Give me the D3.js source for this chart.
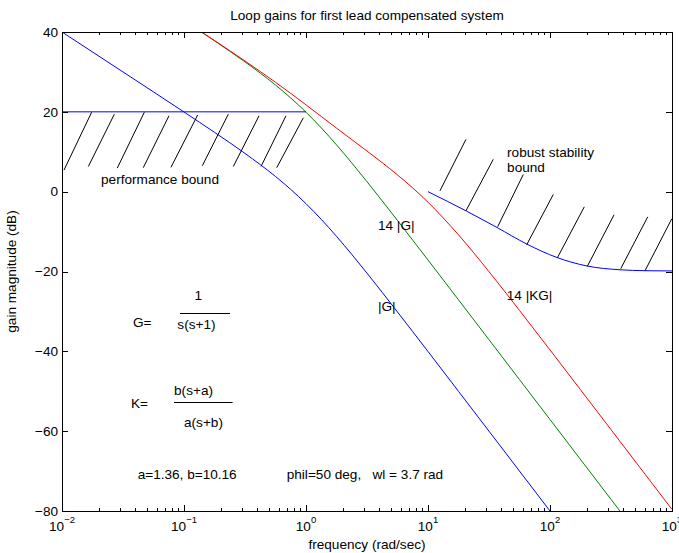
<!DOCTYPE html>
<html>
<head>
<meta charset="utf-8">
<script src="https://cdn.jsdelivr.net/npm/d3@7"></script>
<style>
  html, body { margin: 0; padding: 0; background: #fff; }
  svg text { font-family: "Liberation Sans", Arial, Helvetica, sans-serif; fill: #000; }
</style>
</head>
<body>
<svg id="chart" width="679" height="553"></svg>
<script>
// ---------------- data ----------------
const titleText = "Loop gains for first lead compensated system";
const xLabel = "frequency (rad/sec)";
const yLabel = "gain magnitude (dB)";
const xDomain = [0.01, 1000];
const yDomain = [-80, 40];
const xTickExponents = [-2, -1, 0, 1, 2, 3];
const yTickValues = [-80, -60, -40, -20, 0, 20, 40];

// frequencies (rad/sec) shared by the three loop-gain curves
const freq = [0.01, 0.0316, 0.1, 0.178, 0.316, 0.562, 0.75, 1, 1.334, 1.778, 2.371, 3.162,
              4.217, 5.623, 7.499, 10, 17.78, 31.62, 56.23, 100, 316.2, 1000];
// |G|  (dB)
const gDb = [40.00, 30.00, 19.96, 14.86, 9.59, 3.81, 0.56, -3.01, -6.94, -11.19, -15.71, -20.41,
             -25.24, -30.14, -35.08, -40.04, -50.01, -60.00, -70.00, -80.00, -100.00, -120.00];
// 14|G| (dB)
const g14Db = [62.92, 52.92, 42.88, 37.78, 32.51, 26.73, 23.48, 19.91, 15.98, 11.73, 7.21, 2.51,
               -2.32, -7.22, -12.16, -17.12, -27.09, -37.08, -47.08, -57.08, -77.08, -97.08];
// 14|KG| (dB)
const kg14Db = [62.92, 52.92, 42.91, 37.86, 32.74, 27.41, 24.61, 21.75, 18.83, 15.93, 13.05, 10.18,
                7.25, 4.20, 0.92, -2.65, -10.82, -20.03, -29.75, -39.65, -59.61, -79.61];

// performance bound (horizontal) and its hatching
const perfFreq = [0.01, 1];
const perfDb = [20, 20];
const perfHatchFreqLow = [0.01038, 0.01644, 0.02838, 0.04634, 0.07816, 0.1413, 0.2535, 0.4276, 0.5754];
const perfHatchDbLow = [5.4, 6.3, 5.9, 6.0, 6.1, 6.5, 6.3, 6.3, 6.0];
const perfHatchFreqHigh = [0.0175, 0.02685, 0.0473, 0.0753, 0.1294, 0.2307, 0.4121, 0.6855, 0.9506];
const perfHatchDbHigh = [19.9, 19.4, 19.9, 19.0, 19.2, 19.4, 19.0, 19.0, 18.5];

// robust stability bound and its hatching
const robFreq = [10, 20.6, 36.8, 64.4, 114.0, 201.0, 375.0, 601.0, 1000];
const robDb = [0, -4.84, -8.98, -13.11, -16.49, -18.62, -19.57, -19.80, -19.87];
const robHatchFreqLow = [12.53, 20.46, 37.24, 64.42, 114.8, 202.3, 380.2, 601.2];
const robHatchDbLow = [0.2, -4.8, -8.8, -13.3, -16.6, -18.7, -19.3, -19.8];
const robHatchFreqHigh = [20.46, 34.28, 60.39, 106.4, 191.0, 335.0, 632.4, 995.4];
const robHatchDbHigh = [13.1, 8.1, 4.3, -0.7, -3.8, -5.8, -6.3, -6.8];

// annotations: [text, frequency, dB-baseline]
const annotations = [
  ["performance bound", 0.0209, 2.0],
  ["robust stability", 44.5, 8.7],
  ["bound", 44.5, 5.0],
  ["14 |G|", 3.89, -9.6],
  ["|G|", 3.89, -29.9],
  ["14 |KG|", 44.2, -27.1],
  ["G=", 0.0382, -34.0],
  ["K=", 0.0368, -54.2],
  ["a=1.36, b=10.16", 0.0417, -72.0],
  ["phil=50 deg,   wl = 3.7 rad", 0.695, -72.0]
];
// fractions: numerator, denominator, numerator freq, denominator freq, line centre freq,
// numerator dB, line dB, denominator dB, line half width (decades)
const fractions = [
  ["1", "s(s+1)", 0.131, 0.1264, 0.1486, -27.2, -30.4, -34.5, 0.205],
  ["b(s+a)", "a(s+b)", 0.1197, 0.1445, 0.1439, -50.9, -52.7, -58.9, 0.24]
];

// ---------------- drawing ----------------
const W = 679, H = 553;
const m = { left: 62, right: 7, top: 32, bottom: 42 };
const pw = W - m.left - m.right, ph = H - m.top - m.bottom;
const svg = d3.select("#chart");
const FS = 13.6;

const x = d3.scaleLog().domain(xDomain).range([m.left, m.left + pw]);
const y = d3.scaleLinear().domain(yDomain).range([m.top + ph, m.top]);

svg.append("defs").append("clipPath").attr("id", "clip")
  .append("rect").attr("x", m.left).attr("y", m.top).attr("width", pw).attr("height", ph);

const plot = svg.append("g").attr("clip-path", "url(#clip)");
const line = d3.line().x(d => x(d[0])).y(d => y(d[1])).curve(d3.curveMonotoneX);

function drawSeries(fs, vs, color) {
  plot.append("path").datum(fs.map((f, i) => [f, vs[i]]))
    .attr("d", line).attr("fill", "none").attr("stroke", color).attr("stroke-width", 1);
}
drawSeries(freq, gDb, "#0000ff");
drawSeries(freq, g14Db, "#008000");
drawSeries(freq, kg14Db, "#ff0000");
drawSeries(perfFreq, perfDb, "#0000ff");
drawSeries(robFreq, robDb, "#0000ff");

function drawHatch(f1, d1, f2, d2) {
  plot.selectAll(null).data(f1.map((f, i) => [f, d1[i], f2[i], d2[i]])).enter()
    .append("line")
    .attr("x1", d => x(d[0])).attr("y1", d => y(d[1]))
    .attr("x2", d => x(d[2])).attr("y2", d => y(d[3]))
    .attr("stroke", "#000").attr("stroke-width", 1);
}
drawHatch(perfHatchFreqLow, perfHatchDbLow, perfHatchFreqHigh, perfHatchDbHigh);
drawHatch(robHatchFreqLow, robHatchDbLow, robHatchFreqHigh, robHatchDbHigh);

// axes box
const axisG = svg.append("g");
axisG.append("rect").attr("x", m.left).attr("y", m.top).attr("width", pw).attr("height", ph)
  .attr("fill", "none").attr("stroke", "#000").attr("stroke-width", 1).attr("shape-rendering", "crispEdges");

// x ticks (major + minor), bottom and top, inward
const xMajor = xTickExponents.map(e => Math.pow(10, e));
const xMinor = [];
xTickExponents.slice(0, -1).forEach(e => { for (let k = 2; k <= 9; k++) xMinor.push(k * Math.pow(10, e)); });
function xTicks(vals, len) {
  vals.forEach(v => {
    const px = Math.round(x(v)) + 0.5;
    axisG.append("line").attr("x1", px).attr("x2", px).attr("y1", m.top + ph).attr("y2", m.top + ph - len)
      .attr("stroke", "#000").attr("stroke-width", 1);
    axisG.append("line").attr("x1", px).attr("x2", px).attr("y1", m.top).attr("y2", m.top + len)
      .attr("stroke", "#000").attr("stroke-width", 1);
  });
}
xTicks(xMajor, 6);
xTicks(xMinor, 3);

// y ticks left and right
yTickValues.forEach(v => {
  const py = Math.round(y(v)) + 0.5;
  axisG.append("line").attr("x1", m.left).attr("x2", m.left + 6).attr("y1", py).attr("y2", py)
    .attr("stroke", "#000").attr("stroke-width", 1);
  axisG.append("line").attr("x1", m.left + pw).attr("x2", m.left + pw - 6).attr("y1", py).attr("y2", py)
    .attr("stroke", "#000").attr("stroke-width", 1);
  axisG.append("text").attr("x", m.left - 4).attr("y", y(v)).attr("dy", "0.35em")
    .attr("text-anchor", "end").attr("font-size", FS)
    .text(v < 0 ? "\u2212" + Math.abs(v) : String(v));
});

// x tick labels 10^e
xTickExponents.forEach(e => {
  const t = axisG.append("text").attr("x", x(Math.pow(10, e))).attr("y", 531)
    .attr("text-anchor", "middle").attr("font-size", FS);
  t.append("tspan").text("10");
  t.append("tspan").attr("font-size", 9.5).attr("dy", -8)
    .text(e < 0 ? "\u2212" + Math.abs(e) : String(e));
});

// title & axis labels
svg.append("text").attr("x", m.left + pw / 2).attr("y", 20).attr("text-anchor", "middle")
  .attr("font-size", FS).text(titleText);
svg.append("text").attr("x", m.left + pw / 2).attr("y", 549).attr("text-anchor", "middle")
  .attr("font-size", FS).text(xLabel);
svg.append("text").attr("transform", `translate(16,${m.top + ph / 2}) rotate(-90)`)
  .attr("text-anchor", "middle").attr("font-size", FS).text(yLabel);

// annotations
annotations.forEach(a => {
  svg.append("text").attr("x", x(a[1])).attr("y", y(a[2])).attr("font-size", FS)
    .attr("xml:space", "preserve").style("white-space", "pre").text(a[0]);
});
fractions.forEach(f => {
  svg.append("text").attr("x", x(f[2])).attr("y", y(f[5])).attr("text-anchor", "middle").attr("font-size", FS).text(f[0]);
  svg.append("text").attr("x", x(f[3])).attr("y", y(f[7])).attr("text-anchor", "middle").attr("font-size", FS).text(f[1]);
  const cx = x(f[4]);
  const hw = f[8] * (x(10) - x(1));
  svg.append("line").attr("x1", cx - hw).attr("x2", cx + hw)
    .attr("y1", Math.round(y(f[6])) + 0.5).attr("y2", Math.round(y(f[6])) + 0.5)
    .attr("stroke", "#000").attr("stroke-width", 1);
});
</script>
</body>
</html>
